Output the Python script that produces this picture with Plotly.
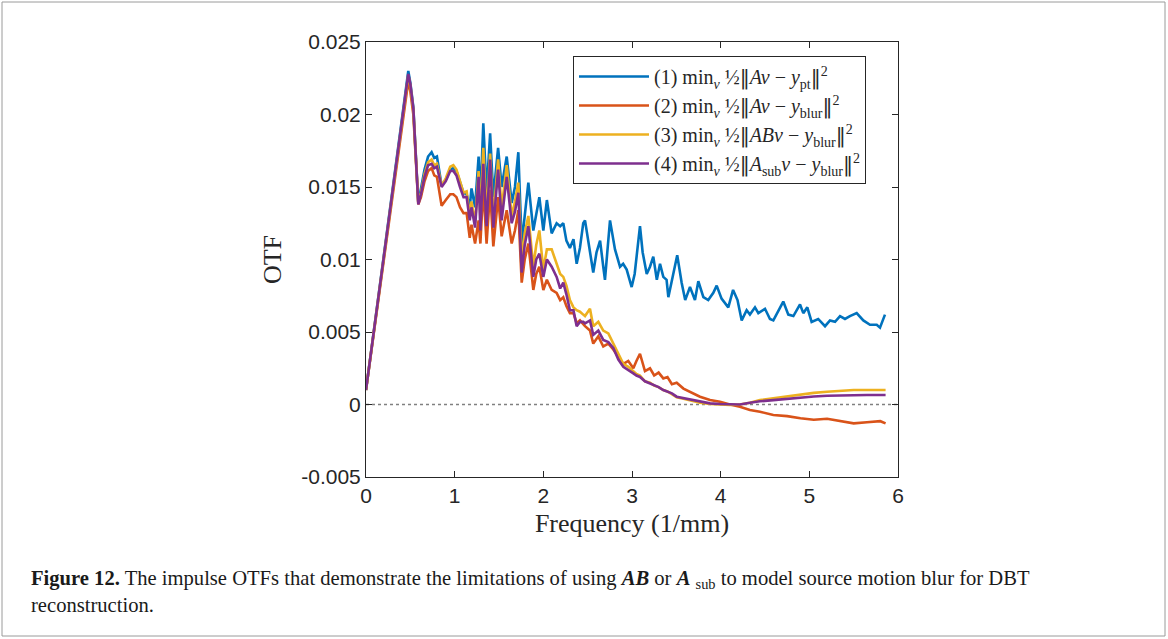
import plotly.graph_objects as go

# ---------------- data ----------------
freq_common = [0.0, 0.43, 0.477, 0.50, 0.534, 0.59, 0.62, 0.66, 0.70, 0.74, 0.77, 0.80, 0.853, 0.90,
               0.95, 0.985, 1.02, 1.06, 1.10, 1.135, 1.17, 1.19, 1.23, 1.27, 1.29, 1.323, 1.36, 1.40,
               1.436, 1.49, 1.53, 1.587, 1.643, 1.68, 1.718, 1.756, 1.79, 1.831, 1.887, 1.92, 1.955,
               2.0, 2.04, 2.094, 2.15, 2.19, 2.225, 2.26, 2.30, 2.34, 2.376, 2.413]

blue_common = [0.0010, 0.0208, 0.0230, 0.0222, 0.0205, 0.0139, 0.0148, 0.0162, 0.0171, 0.0174,
               0.0170, 0.0171, 0.0151, 0.0155, 0.0162, 0.0163, 0.0161, 0.0153, 0.0146, 0.0145,
               0.0136, 0.0149, 0.0136, 0.0171, 0.0141, 0.0194, 0.0146, 0.0187, 0.0143, 0.0177,
               0.0150, 0.0171, 0.0139, 0.0150, 0.0174, 0.0111, 0.0130, 0.0153, 0.0120, 0.0130,
               0.0143, 0.0120, 0.0141, 0.0118, 0.0125, 0.0123, 0.0125, 0.0113, 0.0108, 0.0114,
               0.0097, 0.0108]
orange_common = [0.0010, 0.0205, 0.0223, 0.0216, 0.0200, 0.0138, 0.0143, 0.0154, 0.0161, 0.0163,
                 0.0158, 0.0157, 0.0137, 0.0141, 0.0145, 0.0145, 0.0143, 0.0136, 0.0132, 0.0132,
                 0.0115, 0.0124, 0.0111, 0.0127, 0.0111, 0.0150, 0.0111, 0.0148, 0.0109, 0.0143,
                 0.0116, 0.0134, 0.0111, 0.0120, 0.0134, 0.0084, 0.0100, 0.0111, 0.0079, 0.0090,
                 0.0095, 0.0079, 0.0086, 0.0079, 0.0077, 0.0072, 0.0074, 0.0068, 0.0063, 0.0063,
                 0.0056, 0.0058]
yellow_common = [0.0010, 0.0207, 0.0227, 0.0220, 0.0203, 0.0139, 0.0146, 0.0159, 0.0167, 0.0169,
                 0.0165, 0.0166, 0.0151, 0.0156, 0.0164, 0.0165, 0.0162, 0.0154, 0.0146, 0.0147,
                 0.0130, 0.0140, 0.0125, 0.0161, 0.0128, 0.0177, 0.0130, 0.0173, 0.0128, 0.0169,
                 0.0135, 0.0165, 0.0130, 0.0140, 0.0153, 0.0100, 0.0118, 0.0130, 0.0095, 0.0110,
                 0.0120, 0.0093, 0.0107, 0.0107, 0.0097, 0.0090, 0.0088, 0.0082, 0.0072, 0.0067,
                 0.0065, 0.0064]
purple_common = [0.0010, 0.0207, 0.0228, 0.0221, 0.0204, 0.0138, 0.0145, 0.0157, 0.0165, 0.0166,
                 0.0163, 0.0164, 0.0150, 0.0154, 0.0161, 0.0161, 0.0158, 0.0150, 0.0143, 0.0143,
                 0.0127, 0.0136, 0.0122, 0.0157, 0.0120, 0.0166, 0.0123, 0.0169, 0.0122, 0.0162,
                 0.0127, 0.0157, 0.0125, 0.0133, 0.0146, 0.0091, 0.0110, 0.0123, 0.0088, 0.0100,
                 0.0104, 0.0088, 0.0100, 0.0095, 0.0088, 0.0080, 0.0084, 0.0076, 0.0065, 0.0065,
                 0.0054, 0.0057]

freq_tail = [2.45, 2.47, 2.526, 2.563, 2.62, 2.676, 2.733, 2.789, 2.846, 2.902, 2.958, 3.015, 3.05,
             3.09, 3.146, 3.203, 3.25, 3.30, 3.353, 3.40, 3.45, 3.504, 3.58, 3.654, 3.767, 3.88,
             3.992, 4.105, 4.217, 4.33, 4.443, 4.594, 4.75, 4.9, 5.05, 5.2, 5.35, 5.5, 5.65, 5.8, 5.86]
orange_tail = [0.0055, 0.0054, 0.0051, 0.0042, 0.0047, 0.0040, 0.0042, 0.0038, 0.0033, 0.0028,
               0.0030, 0.0025, 0.0030, 0.0035, 0.0023, 0.0025, 0.0020, 0.0022, 0.0018, 0.0019,
               0.0014, 0.0015, 0.0011, 0.0009, 0.00054, 0.00031, 0.00019, 0.0, -0.00015, -0.00038,
               -0.0005, -0.00072, -0.0008, -0.00095, -0.00105, -0.00098, -0.00115, -0.0013,
               -0.00122, -0.00115, -0.0013]
yellow_tail = [0.0062, 0.0061, 0.0066, 0.0054, 0.0057, 0.0051, 0.0049, 0.0042, 0.0035, 0.0028,
               0.0026, 0.0023, 0.0021, 0.0020, 0.0016, 0.0015, 0.0013, 0.0012, 0.0010, 0.0009,
               0.0007, 0.0005, 0.0004, 0.0003, 0.00012, 0.00003, -0.00002, -0.00003, 0.0, 0.00012,
               0.00031, 0.00043, 0.0006, 0.00072, 0.0008, 0.00088, 0.00094, 0.0010, 0.0010,
               0.0010, 0.0010]
purple_tail = [0.0057, 0.0056, 0.0058, 0.0048, 0.0051, 0.00445, 0.0043, 0.0039, 0.0031, 0.0026,
               0.0024, 0.00215, 0.0020, 0.0019, 0.0016, 0.00146, 0.0013, 0.0012, 0.0010, 0.0009,
               0.00077, 0.00054, 0.00045, 0.00031, 0.00019, 0.00008, 0.00003, 0.0, 0.0, 0.00012,
               0.00022, 0.0003, 0.0004, 0.0005, 0.00055, 0.0006, 0.00063, 0.00066, 0.00066,
               0.00066, 0.00066]

freq_blue_tail = [2.45, 2.47, 2.526, 2.563, 2.60, 2.64, 2.676, 2.695, 2.752, 2.808, 2.865, 2.90,
                  2.94, 2.996, 3.03, 3.09, 3.12, 3.166, 3.203, 3.24, 3.28, 3.316, 3.353, 3.39, 3.41,
                  3.466, 3.51, 3.56, 3.60, 3.654, 3.71, 3.748, 3.805, 3.86, 3.917, 3.955, 4.01,
                  4.086, 4.14, 4.19, 4.237, 4.293, 4.33, 4.387, 4.425, 4.5, 4.556, 4.594, 4.65,
                  4.706, 4.763, 4.82, 4.895, 4.932, 4.977, 5.026, 5.1, 5.177, 5.233, 5.29, 5.346,
                  5.402, 5.458, 5.534, 5.609, 5.684, 5.76, 5.797, 5.853]
blue_tail = [0.0125, 0.0127, 0.0105, 0.0091, 0.0105, 0.0113, 0.0095, 0.0086, 0.0127, 0.0107,
             0.0095, 0.0097, 0.0093, 0.0081, 0.0090, 0.0123, 0.0105, 0.0090, 0.0095, 0.0102,
             0.0086, 0.0097, 0.0088, 0.0086, 0.0074, 0.0090, 0.0103, 0.0084, 0.0072, 0.0081,
             0.0072, 0.0085, 0.0074, 0.0072, 0.0077, 0.0082, 0.0073, 0.0067, 0.0079, 0.0072,
             0.0058, 0.0065, 0.0062, 0.0067, 0.0063, 0.0066, 0.0059, 0.0058, 0.0065, 0.0071,
             0.0062, 0.0061, 0.0069, 0.0063, 0.0067, 0.0057, 0.0059, 0.0054, 0.0058, 0.0057,
             0.0061, 0.0059, 0.0061, 0.0063, 0.0058, 0.0055, 0.0055, 0.0053, 0.0062]

NB = "<span style='font-family:DejaVu Serif'>‖</span>"
series_names = [
    f"(1) min<sub><i>v</i></sub> ½{NB}<i>Av</i> − <i>y</i><sub>pt</sub>{NB}<sup>2</sup>",
    f"(2) min<sub><i>v</i></sub> ½{NB}<i>Av</i> − <i>y</i><sub>blur</sub>{NB}<sup>2</sup>",
    f"(3) min<sub><i>v</i></sub> ½{NB}<i>ABv</i> − <i>y</i><sub>blur</sub>{NB}<sup>2</sup>",
    f"(4) min<sub><i>v</i></sub> ½{NB}<i>A</i><sub>sub</sub><i>v</i> − <i>y</i><sub>blur</sub>{NB}<sup>2</sup>",
]
x_ticks = [0, 1, 2, 3, 4, 5, 6]
y_ticks = [-0.005, 0, 0.005, 0.01, 0.015, 0.02, 0.025]
y_tick_text = ["-0.005", "0", "0.005", "0.01", "0.015", "0.02", "0.025"]

# ---------------- figure ----------------
colors = ["#0072BD", "#D95319", "#EDB120", "#7E2F8E"]
xs = [freq_common + freq_blue_tail, freq_common + freq_tail,
      freq_common + freq_tail, freq_common + freq_tail]
ys = [blue_common + blue_tail, orange_common + orange_tail,
      yellow_common + yellow_tail, purple_common + purple_tail]

fig = go.Figure()
for x, y, c, n in zip(xs, ys, colors, series_names):
    fig.add_trace(go.Scatter(x=x, y=y, mode="lines", name=n,
                             line=dict(color=c, width=2.6)))

W, H = 1168, 639
ml, mr, mt, mb = 366, 270, 42, 162
pw, ph = W - ml - mr, H - mt - mb

def px2paper_x(px):
    return (px - ml) / pw

def px2paper_y(py):
    return (H - mb - py) / ph

SERIF = "Liberation Serif, Times New Roman, serif"
axis_common = dict(showline=True, linecolor="#262626", linewidth=1, mirror="ticks",
                   ticks="inside", ticklen=6, tickcolor="#262626", showgrid=False,
                   zeroline=False, tickfont=dict(family="Liberation Sans, Arial", size=21,
                                                 color="#262626"))

fig.update_layout(
    width=W, height=H,
    margin=dict(l=ml, r=mr, t=mt, b=mb, pad=0),
    paper_bgcolor="white", plot_bgcolor="white",
    showlegend=True,
    legend=dict(x=px2paper_x(866), y=px2paper_y(56), xanchor="right", yanchor="top",
                bgcolor="white", bordercolor="#262626", borderwidth=1,
                font=dict(family=SERIF, size=20, color="#262626"),
                tracegroupgap=0, itemwidth=70),
    xaxis=dict(range=[0, 6], tickvals=x_ticks, ticktext=[str(v) for v in x_ticks],
               title=dict(text="Frequency (1/mm)", standoff=7,
                          font=dict(family=SERIF, size=26, color="#262626")),
               **axis_common),
    yaxis=dict(range=[-0.005, 0.025], tickvals=y_ticks, ticktext=y_tick_text,
               title=dict(text="OTF", standoff=12,
                          font=dict(family=SERIF, size=26, color="#262626")),
               **axis_common),
)

# dotted zero line
fig.add_shape(type="line", xref="paper", yref="y", x0=0, x1=1, y0=0, y1=0,
              line=dict(color="#808080", width=1.3, dash="dot"), layer="below")

# outer frame of the figure
fig.add_shape(type="rect", xref="paper", yref="paper",
              x0=px2paper_x(2), x1=px2paper_x(1165), y0=px2paper_y(636), y1=px2paper_y(2),
              line=dict(color="#9a9a9a", width=1), fillcolor="rgba(0,0,0,0)")

caption = ("<b>Figure 12.</b> The impulse OTFs that demonstrate the limitations of using "
           "<b><i>AB</i></b> or <b><i>A</i></b> <sub>sub</sub> to model source motion blur for DBT"
           "<br>reconstruction.")
fig.add_annotation(text=caption, xref="paper", yref="paper", x=px2paper_x(29),
                   y=px2paper_y(565), xanchor="left", yanchor="top", align="left",
                   showarrow=False,
                   font=dict(family=SERIF, size=20.6, color="#1a1a1a"))

fig.write_html("out.html")
